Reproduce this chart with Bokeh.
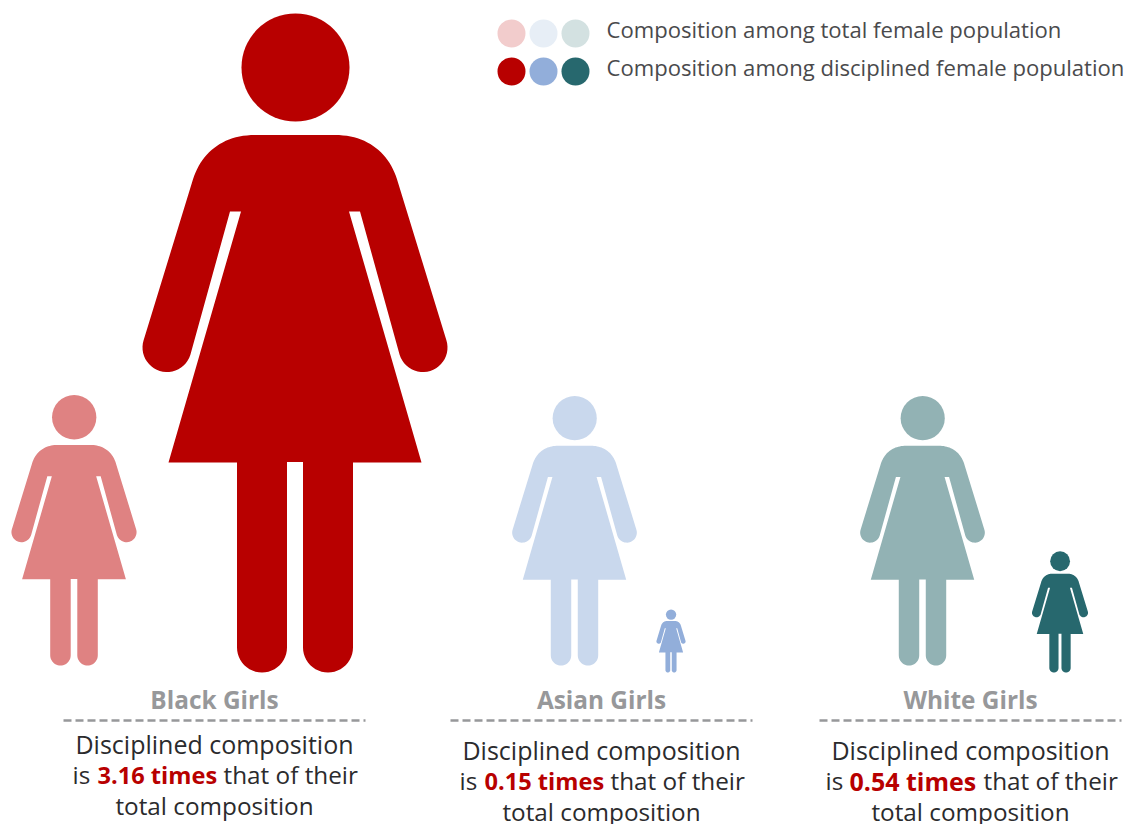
import math
from bokeh.core.properties import value
from bokeh.embed import file_html
from bokeh.models import Range1d
from bokeh.plotting import figure
from bokeh.resources import INLINE

# Groups and their disciplined-to-total composition multiples
groups = ["Black Girls", "Asian Girls", "White Girls"]
multiples = [3.16, 0.15, 0.54]

# Pictogram heights for each group
total_heights = [270, 269, 269]
disciplined_heights = [658, 63, 121]

total_colors = ["#DF8282", "#C9D8ED", "#92B2B4"]
disciplined_colors = ["#B80000", "#92AEDA", "#27686E"]
legend_light = ["#F2CCCC", "#E7EEF6", "#D3E1E1"]
legend_labels = ["Composition among total female population",
                 "Composition among disciplined female population"]

# Page layout of the three columns
total_cx = [73.5, 574, 922]
total_base = [665, 665, 665]
disc_cx = [294.5, 670.5, 1059.5]
disc_base = [672, 672, 672]
caption_cx = [214, 601, 970]
caption_top = [743, 749, 749]
rule_span = [(63, 365), (450, 752), (819, 1121)]
seg_x = [(72, 97, 223), (459, 484, 610), (825, 849, 983)]
bold_sizes = ["23.6px", "23.6px", "25px"]

FONT = value("Open Sans")
GREY = "#97989A"
INK = "#2B2B2D"
RED = "#B80000"


def arc(cx, cy, r, a0, a1, n=24):
    pts = []
    for i in range(n + 1):
        a = math.radians(a0 + (a1 - a0) * i / n)
        pts.append((cx + r * math.cos(a), cy + r * math.sin(a)))
    return pts


def bezier(p0, p1, p2, p3, n=24):
    pts = []
    for i in range(n + 1):
        t = i / n
        m = 1 - t
        pts.append((m**3 * p0[0] + 3 * m * m * t * p1[0] + 3 * m * t * t * p2[0] + t**3 * p3[0],
                    m**3 * p0[1] + 3 * m * m * t * p1[1] + 3 * m * t * t * p2[1] + t**3 * p3[1]))
    return pts


def person_outline():
    """Left half of the body, mirrored, on a 658-tall grid with its axis at 295 and top at 14."""
    half = [(295, 134.5)]
    half += bezier((255, 134.5), (222, 134.5), (200, 153), (192, 182))
    half += arc(167, 347, 24.5, 197.3, 17.3)
    half += [(230, 211), (241, 211), (168.5, 462), (237, 462)]
    half += arc(262, 647, 25, 180, 0)
    half += [(287, 461.5), (295, 461.5)]
    full = half + [(590 - x, y) for x, y in reversed(half)]
    return [((x - 295) / 658, (y - 14) / 658) for x, y in full]


OUTLINE = person_outline()
HEAD = ((295.5 - 295) / 658, (67 - 14) / 658, 54 / 658)

p = figure(width=1125, height=824, x_range=Range1d(0, 1125), y_range=Range1d(824, 0),
           output_backend="svg", toolbar_location=None, min_border=0,
           background_fill_color="white", border_fill_color="white", outline_line_color=None)
p.axis.visible = False
p.grid.visible = False


def draw_person(cx, base, height, color):
    top = base - height
    xs = [cx + u * height for u, _ in OUTLINE]
    ys = [top + v * height for _, v in OUTLINE]
    p.patch(xs, ys, fill_color=color, line_color=None)
    p.circle(x=[cx + HEAD[0] * height], y=[top + HEAD[1] * height], radius=HEAD[2] * height,
             fill_color=color, line_color=None)


for i in range(len(groups)):
    draw_person(total_cx[i], total_base[i], total_heights[i], total_colors[i])
for i in range(len(groups)):
    draw_person(disc_cx[i], disc_base[i], disciplined_heights[i], disciplined_colors[i])

# Legend swatches and labels
for j, (row_y, row_colors) in enumerate(((33, legend_light), (71, disciplined_colors))):
    p.scatter(x=[511, 543, 575], y=[row_y] * 3, size=28, marker="circle",
              fill_color=row_colors, line_color=None)
    p.text(x=[606], y=[row_y - 5], text=[legend_labels[j]], text_font=FONT, text_font_size="22.1px",
           text_color="#4A4A4C", text_baseline="middle", text_align="left")

# Captions under each column
for i, g in enumerate(groups):
    top = caption_top[i]
    p.text(x=[caption_cx[i]], y=[699], text=[g], text_font=FONT, text_font_size="24.4px",
           text_font_style="bold", text_color=GREY, text_align="center", text_baseline="middle")
    x0, x1 = rule_span[i]
    p.line([x0, x1], [720, 720], line_color=GREY, line_width=2.6, line_dash="8 4")
    p.text(x=[caption_cx[i]], y=[top], text=["Disciplined composition"], text_font=FONT,
           text_font_size="25px", text_color=INK, text_align="center", text_baseline="middle")
    xa, xb, xc = seg_x[i]
    mid = top + 31
    p.text(x=[xa], y=[mid], text=["is"], text_font=FONT, text_font_size="24.3px",
           text_color=INK, text_baseline="middle", text_align="left")
    p.text(x=[xb], y=[mid], text=[f"{multiples[i]:.2f} times"], text_font=FONT,
           text_font_size=bold_sizes[i], text_font_style="bold", text_color=RED,
           text_baseline="middle", text_align="left")
    p.text(x=[xc], y=[mid], text=["that of their"], text_font=FONT, text_font_size="24.3px",
           text_color=INK, text_baseline="middle", text_align="left")
    p.text(x=[caption_cx[i]], y=[top + 62], text=["total composition"], text_font=FONT,
           text_font_size="24.3px", text_color=INK, text_align="center", text_baseline="middle")

open("out.html", "w").write(file_html(p, INLINE))
